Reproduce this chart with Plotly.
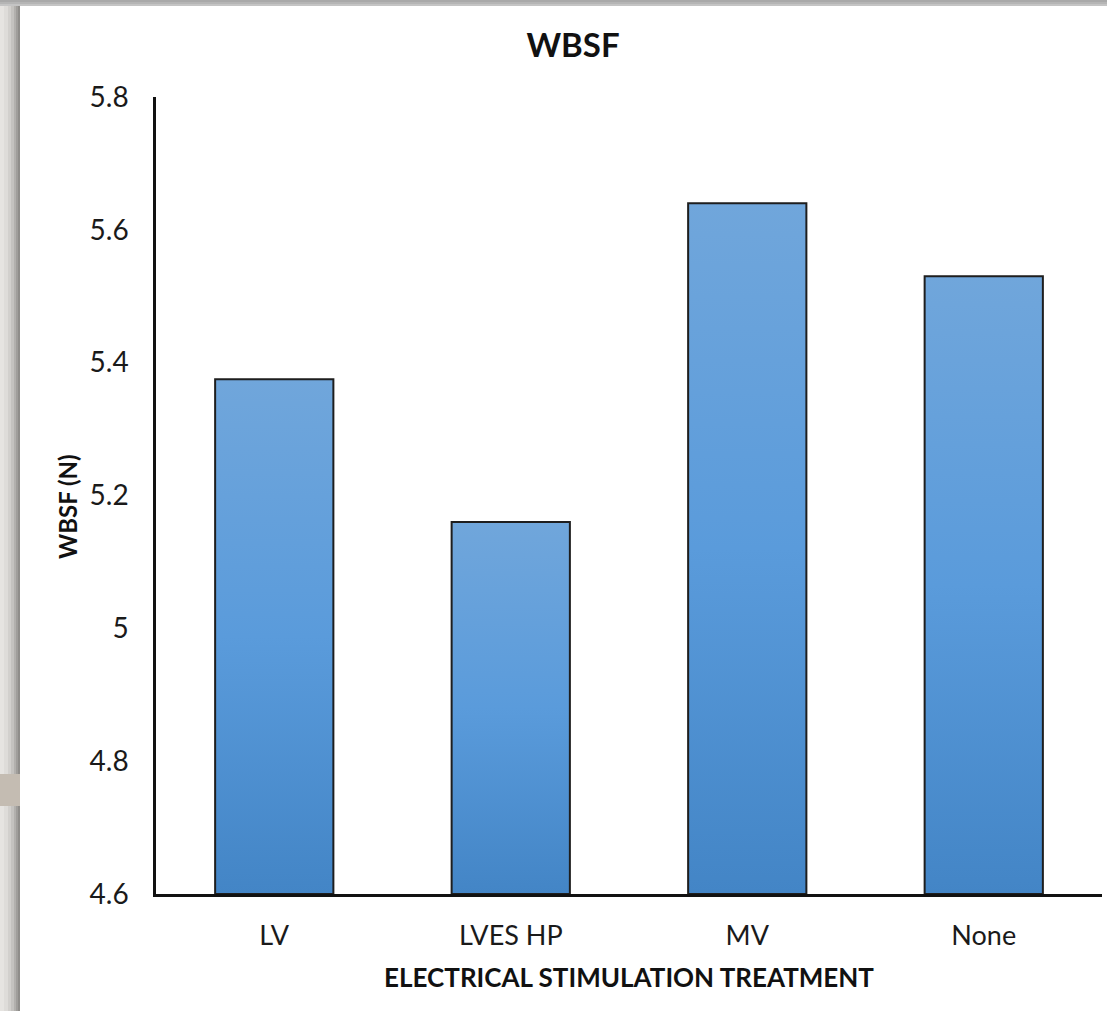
import plotly.graph_objects as go

# Warner-Bratzler shear force by electrical stimulation treatment
categories = ["LV", "LVES HP", "MV", "None"]
wbsf_values = [5.375, 5.16, 5.64, 5.53]
y_ticks = [4.6, 4.8, 5.0, 5.2, 5.4, 5.6, 5.8]
y_ticktext = ["4.6", "4.8", "5", "5.2", "5.4", "5.6", "5.8"]

W, H = 1107, 1011
L, R, T, B = 156, 5, 97, 117
PW, PH = W - L - R, H - T - B
BAR_HALF = 0.25
Y_MIN, Y_MAX = 4.6, 5.8


def px2x(px):
    return (px - L) / PW


def py2y(py):
    return (H - B - py) / PH


fig = go.Figure()

# bars drawn as filled polygons so each can carry a vertical gradient
for i, (cat, val) in enumerate(zip(categories, wbsf_values)):
    x0, x1 = i - BAR_HALF, i + BAR_HALF
    fig.add_trace(go.Scatter(
        x=[x0, x1, x1, x0, x0],
        y=[Y_MIN, Y_MIN, val, val, Y_MIN],
        mode="lines",
        fill="toself",
        fillgradient=dict(
            type="vertical",
            colorscale=[[0, "#4385c6"], [0.5, "#5a9bdb"], [1, "#70a6db"]],
        ),
        line=dict(color="#1e1e1e", width=2),
        name=cat,
        hovertemplate=f"{cat}: {val}<extra></extra>",
        showlegend=False,
    ))

shapes = []
# grey frame around the card: left edge
left_cols = [(0, "#e6e4e1"), (4, "#dedcd9"), (8, "#d2d0cd"), (11, "#c4c2bf"),
             (14, "#b2b0ad"), (16, "#a09e9b"), (18, "#8f8d8a")]
for k, (px, col) in enumerate(left_cols):
    nxt = left_cols[k + 1][0] if k + 1 < len(left_cols) else 20
    shapes.append(dict(type="rect", xref="paper", yref="paper",
                       x0=px2x(px), x1=px2x(nxt), y0=py2y(H), y1=py2y(0),
                       fillcolor=col, line=dict(width=0), layer="below"))
# beige band on the left edge
shapes.append(dict(type="rect", xref="paper", yref="paper",
                   x0=px2x(0), x1=px2x(20), y0=py2y(806), y1=py2y(774),
                   fillcolor="#c4bcb2", line=dict(width=0), layer="below"))
# top edge
top_rows = [(0, "#a9a9a9"), (2, "#b5b5b5"), (4, "#c4c4c4")]
for k, (py, col) in enumerate(top_rows):
    nxt = top_rows[k + 1][0] if k + 1 < len(top_rows) else 6
    shapes.append(dict(type="rect", xref="paper", yref="paper",
                       x0=px2x(0), x1=px2x(W), y0=py2y(nxt), y1=py2y(py),
                       fillcolor=col, line=dict(width=0), layer="below"))

fig.update_layout(
    width=W, height=H,
    margin=dict(l=L, r=R, t=T, b=B),
    paper_bgcolor="white",
    plot_bgcolor="white",
    shapes=shapes,
    title=dict(
        text="<b>WBSF</b>",
        x=573 / W, xref="container", xanchor="center",
        y=1 - 45 / H, yref="container", yanchor="middle",
        font=dict(family="Lato", size=33, color="#111111"),
    ),
    xaxis=dict(
        range=[-0.5, 3.5],
        tickmode="array",
        tickvals=list(range(len(categories))),
        ticktext=categories,
        showgrid=False, zeroline=False,
        showline=True, linecolor="#111111", linewidth=2.5,
        ticks="", ticklabelstandoff=16,
        tickfont=dict(family="Lato", size=27, color="#1a1a1a"),
        title=dict(text="<b>ELECTRICAL STIMULATION TREATMENT</b>",
                   font=dict(family="Lato", size=26, color="#111111"),
                   standoff=19),
    ),
    yaxis=dict(
        range=[Y_MIN, Y_MAX],
        tickmode="array",
        tickvals=y_ticks,
        ticktext=y_ticktext,
        showgrid=False, zeroline=False,
        showline=True, linecolor="#111111", linewidth=2.5,
        ticks="", ticklabelstandoff=19,
        tickfont=dict(family="Lato", size=28, color="#1a1a1a"),
    ),
    annotations=[dict(
        text="<b>WBSF (N)</b>",
        xref="paper", yref="paper",
        x=px2x(67), y=py2y(507),
        xanchor="center", yanchor="middle",
        textangle=-90, showarrow=False,
        font=dict(family="Lato", size=24, color="#111111"),
    )],
)

fig.write_html("out.html")
